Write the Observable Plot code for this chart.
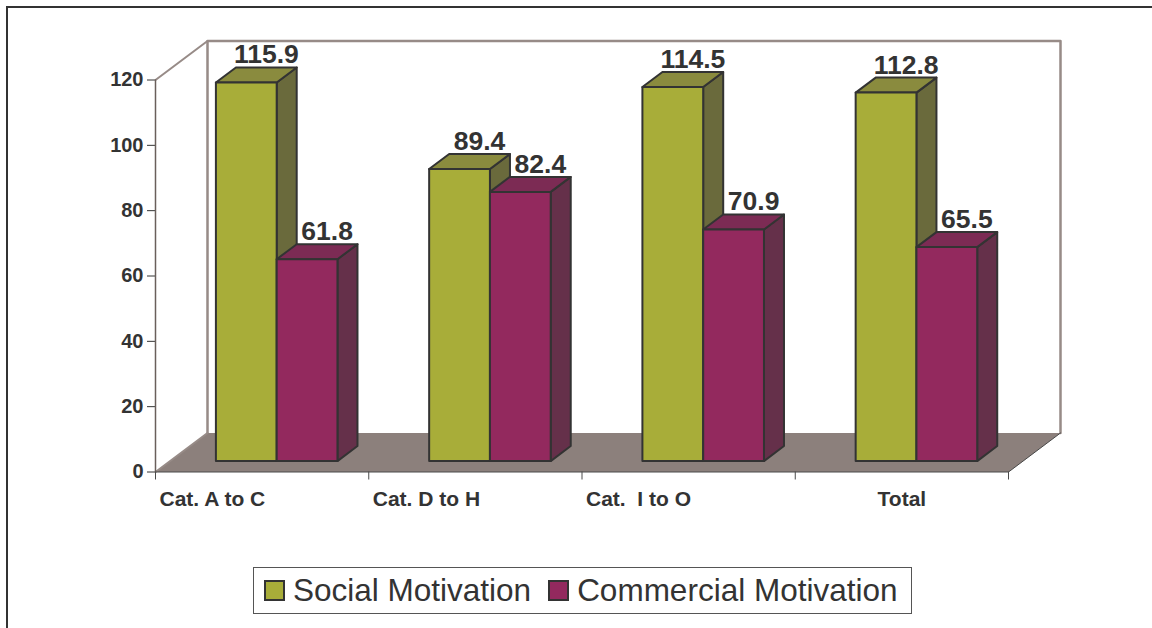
<!DOCTYPE html>
<html>
<head>
<meta charset="utf-8">
<script src="https://cdn.jsdelivr.net/npm/d3@7"></script>
<script src="https://cdn.jsdelivr.net/npm/@observablehq/plot@0.6"></script>
<style>
html, body { margin: 0; padding: 0; background: #fff; }
body { width: 1152px; height: 628px; overflow: hidden; position: relative; font-family: "Liberation Sans", Arial, sans-serif; }
#frame { position: absolute; left: 6px; top: 6px; width: 1300px; height: 800px; border-left: 2px solid #333; border-top: 2px solid #333; }
#chart { position: absolute; left: 0; top: 0; }
#legend { position: absolute; left: 253px; top: 567px; width: 659px; height: 47px; border: 1px solid #555; box-sizing: border-box;
  display: flex; align-items: center; padding-left: 10px; color: #333; font-size: 31.5px; }
#legend .sw { width: 17px; height: 17px; border: 2px solid #333; margin-right: 8px; flex: none; }
#legend .item { display: flex; align-items: center; margin-right: 17px; white-space: nowrap; }
</style>
</head>
<body>
<div id="frame"></div>
<div id="chart"></div>
<div id="legend"></div>
<script>
// ---- data ----
const categories = ["Cat. A to C", "Cat. D to H", "Cat.\u00a0 I to O", "Total"];
const seriesNames = ["Social Motivation", "Commercial Motivation"];
const socialValues = [115.9, 89.4, 114.5, 112.8];
const commercialValues = [61.8, 82.4, 70.9, 65.5];
const yTicks = [0, 20, 40, 60, 80, 100, 120];

// ---- styling ----
const palette = [
  {front: "#a8ad39", top: "#8a8b3e", side: "#6a6a3c"},
  {front: "#93295e", top: "#7c2b54", side: "#65304a"}
];
const W = 1152, H = 545, ML = 155, MR = 144, MT = 79.5, MB = 73.5;
const yMax = yTicks[yTicks.length - 1];
const pxX = (W - ML - MR) / categories.length;
const pxY = (H - MT - MB) / yMax;
const DX = 52 / pxX, DY = 39 / pxY;   // full floor depth in data units
const zF = 0.28, zB = 0.665;          // bar front / back depth fractions
const gap = 0.215, bw = 0.285;        // bar placement inside a category band
const P = (x, v, z) => ({X: x + z * DX, Y: v + z * DY});

// ---- build bars & faces from data ----
const seriesValues = [socialValues, commercialValues];
const bars = [];
categories.forEach((c, i) => {
  seriesValues.forEach((vals, s) => {
    const x1 = i + gap + s * bw;
    bars.push({i, s, x1, x2: x1 + bw, v: vals[i], category: c, series: seriesNames[s]});
  });
});
const faces = [];
bars.forEach((b, k) => {
  const col = palette[b.s];
  const add = (name, fill, pts) => pts.forEach(p => faces.push({id: k + "-" + name, fill, ...p}));
  add("side", col.side, [P(b.x2, 0, zF), P(b.x2, 0, zB), P(b.x2, b.v, zB), P(b.x2, b.v, zF)]);
  add("top", col.top, [P(b.x1, b.v, zF), P(b.x2, b.v, zF), P(b.x2, b.v, zB), P(b.x1, b.v, zB)]);
  add("front", col.front, [P(b.x1, 0, zF), P(b.x2, 0, zF), P(b.x2, b.v, zF), P(b.x1, b.v, zF)]);
});
const labels = bars.map(b => ({...P((b.x1 + b.x2) / 2, b.v, zB), text: d3.format(".1f")(b.v)}));

const n = categories.length;
const floor = [P(0, 0, 0), P(n, 0, 0), P(n, 0, 1), P(0, 0, 1)];
const backWall = [P(0, 0, 1), P(0, yMax, 1), P(n, yMax, 1), P(n, 0, 1)];
const lightEdges = [
  {id: "a", ...P(0, yMax, 0)}, {id: "a", ...P(0, yMax, 1)},
  {id: "b", ...P(0, 0, 0)}, {id: "b", ...P(0, 0, 1)}
];
const darkEdges = [
  {id: "f", ...P(0, 0, 0)}, {id: "f", ...P(n, 0, 0)}, {id: "f", ...P(n, 0, 1)}
];
const axisLine = [P(0, 0, 0), P(0, yMax, 0)];
const catLabels = categories.map((c, i) => ({c, i}));
const xTicks = d3.range(n + 1);

const chart = Plot.plot({
  width: W, height: H,
  marginLeft: ML, marginRight: MR, marginTop: MT, marginBottom: MB,
  x: {domain: [0, n], axis: null},
  y: {domain: [0, yMax], ticks: yTicks.length - 1, tickSize: 8, tickPadding: 4, label: null},
  color: {type: "identity"},
  style: {fontFamily: "'Liberation Sans', Arial, sans-serif", fontSize: "20px", fontWeight: "bold", color: "#333", background: "transparent", overflow: "visible"},
  marks: [
    Plot.line(backWall, {x: "X", y: "Y", stroke: "#978b87", strokeWidth: 2.5}),
    Plot.line(floor, {x: "X", y: "Y", fill: "#8c807c", stroke: null, curve: "linear-closed"}),
    Plot.line(lightEdges, {x: "X", y: "Y", z: "id", stroke: "#978b87", strokeWidth: 2}),
    Plot.line(darkEdges, {x: "X", y: "Y", z: "id", stroke: "#4a4a4a", strokeWidth: 1}),
    Plot.line(axisLine, {x: "X", y: "Y", stroke: "#6a5f5b", strokeWidth: 1.5}),
    Plot.ruleX(xTicks, {y1: 0, y2: 0, insetBottom: -8, stroke: "#4a4a4a", strokeWidth: 1}),
    Plot.line(faces, {x: "X", y: "Y", z: "id", fill: "fill", stroke: "#333", strokeWidth: 2, strokeLinejoin: "round", curve: "linear-closed"}),
    Plot.text(labels, {x: "X", y: "Y", text: "text", dy: -4, lineAnchor: "bottom", fontSize: 26.5, fontWeight: "bold", fill: "#333"}),
    Plot.text(catLabels.filter(d => d.i < n - 1), {x: d => d.i, y: () => 0, text: "c", dx: 4, dy: 27, textAnchor: "start", fontSize: 21, fontWeight: "bold", fill: "#333"}),
    Plot.text(catLabels.filter(d => d.i === n - 1), {x: d => d.i + 0.5, y: () => 0, text: "c", dy: 27, textAnchor: "middle", fontSize: 21, fontWeight: "bold", fill: "#333"})
  ]
});
document.getElementById("chart").appendChild(chart);

// legend
const legend = document.getElementById("legend");
seriesNames.forEach((name, s) => {
  const item = document.createElement("div");
  item.className = "item";
  const sw = document.createElement("div");
  sw.className = "sw";
  sw.style.background = palette[s].front;
  const t = document.createElement("span");
  t.textContent = name;
  item.appendChild(sw);
  item.appendChild(t);
  legend.appendChild(item);
});
</script>
</body>
</html>
